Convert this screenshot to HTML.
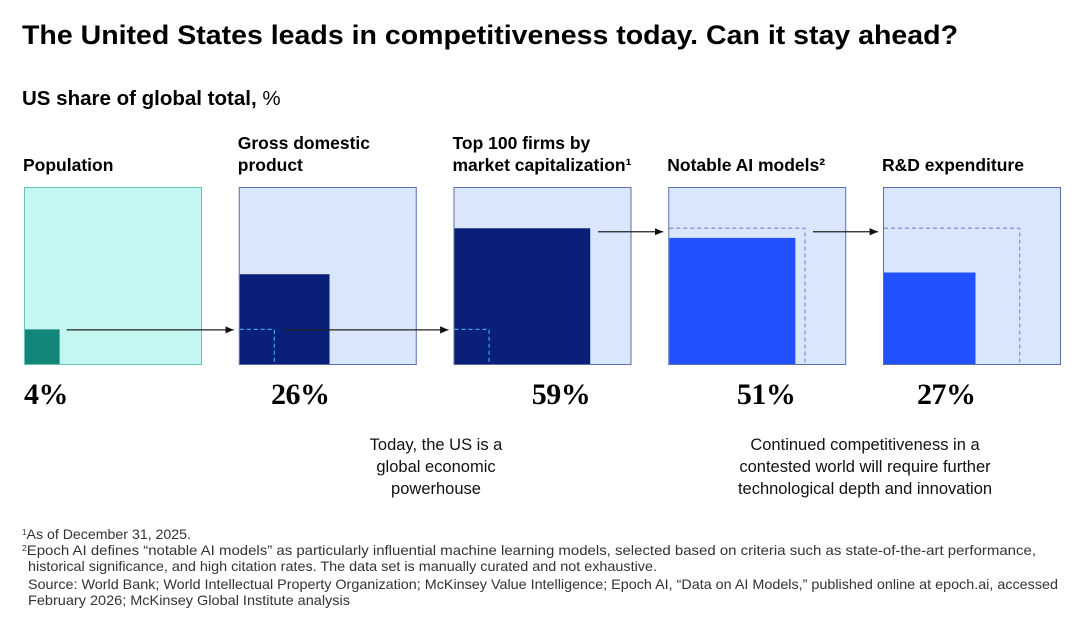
<!DOCTYPE html>
<html><head><meta charset="utf-8"><style>
body{margin:0;background:#fff;width:1080px;height:621px;overflow:hidden;font-family:"Liberation Sans",sans-serif;}
svg{display:block}
</style></head><body>
<svg id="chart" width="1080" height="621" font-family="Liberation Sans, sans-serif">
<text x="22" y="44" font-size="27" font-weight="bold" fill="#000" textLength="936" lengthAdjust="spacingAndGlyphs">The United States leads in competitiveness today. Can it stay ahead?</text>
<text x="22" y="105" font-size="20.5" font-weight="bold" fill="#000">US share of global total, <tspan font-weight="normal">%</tspan></text>
<g id="panels"></g>
<g font-size="16.5" fill="#111" text-anchor="middle">
<text x="436" y="450">Today, the US is a</text><text x="436" y="472">global economic</text><text x="436" y="494">powerhouse</text></g>
<g font-size="16.5" fill="#111" text-anchor="middle">
<text x="865" y="450">Continued competitiveness in a</text><text x="865" y="472">contested world will require further</text><text x="865" y="494">technological depth and innovation</text></g>
<g font-size="14" fill="#333" lengthAdjust="spacingAndGlyphs">
<text x="22" y="539" textLength="169" lengthAdjust="spacingAndGlyphs"><tspan font-size="8" dy="-4">1</tspan><tspan dy="4">As of December 31, 2025.</tspan></text>
<text x="22" y="555" textLength="1014" lengthAdjust="spacingAndGlyphs"><tspan font-size="8" dy="-4">2</tspan><tspan dy="4">Epoch AI defines “notable AI models” as particularly influential machine learning models, selected based on criteria such as state-of-the-art performance,</tspan></text>
<text x="28" y="571" textLength="629" lengthAdjust="spacingAndGlyphs">historical significance, and high citation rates. The data set is manually curated and not exhaustive.</text>
<text x="28" y="589" textLength="1030" lengthAdjust="spacingAndGlyphs">Source: World Bank; World Intellectual Property Organization; McKinsey Value Intelligence; Epoch AI, “Data on AI Models,” published online at epoch.ai, accessed</text>
<text x="28" y="605" textLength="322" lengthAdjust="spacingAndGlyphs">February 2026; McKinsey Global Institute analysis</text>
</g>
</svg>
<script>
const categories=["Population","Gross domestic product","Top 100 firms by market capitalization","Notable AI models","R&D expenditure"];
const shares=[4,26,59,51,27];
const referenceShares=[null,4,4,59,59];
const titleLines=[["Population"],["Gross domestic","product"],["Top 100 firms by","market capitalization¹"],["Notable AI models²"],["R&D expenditure"]];
const NS="http://www.w3.org/2000/svg";
const g=document.getElementById("panels");
const X0=24,STEP=214.75,S=178,TOP=187,BOT=365;
function side(v){return S*Math.sqrt(v/100);}
function px(i){return X0+i*STEP;}
function mk(t,a,p){const e=document.createElementNS(NS,t);for(const k in a)e.setAttribute(k,a[k]);(p||g).appendChild(e);return e;}
const bg=["#c4f6f2","#d9e6fb","#d9e6fb","#d9e6fb","#d9e6fb"];
const bd=["#6cc2b8","#5a6fa8","#5a6fa8","#5a6fa8","#5a6fa8"];
const fg=["#128679","#0a1f78","#0a1f78","#2251ff","#2251ff"];
const dashCol=["#000","#3aa6e8","#3aa6e8","#7c8fe8","#7c8fe8"];
mk("defs",{}).innerHTML='<marker id="ah" markerWidth="8" markerHeight="8" refX="7" refY="4" orient="auto"><path d="M0,1 L7,4 L0,7 z" fill="#111"/></marker>';
categories.forEach((c,i)=>{
  const x=px(i);
  const lines=titleLines[i];
  lines.forEach((l,j)=>{const t=mk("text",{x:x-1,y:171-(lines.length-1-j)*22,"font-size":17.5,"font-weight":"bold",fill:"#000"});
    
    
    t.textContent=l;});
  const r=mk("rect",{x:x+0.5,y:TOP+0.5,width:S-1,height:S-1,fill:bg[i],stroke:bd[i],"stroke-width":1});
  
  
  const s=side(shares[i]);
  const b=mk("rect",{x:x+1,y:BOT-s,width:s-1,height:s-1,fill:fg[i]});
  
  
  if(referenceShares[i]!=null){
    const d=side(referenceShares[i]);
    const p=mk("path",{d:`M${x+1},${BOT-d} H${x+d} V${BOT-1}`,fill:"none",stroke:dashCol[i],"stroke-width":1.2,"stroke-dasharray":"4,3"});
    
    
  }
  const lbl=mk("text",{x:Math.max(x+s,x+44),y:404,"text-anchor":"end","font-family":"Liberation Serif, serif","font-size":30,"font-weight":"bold",fill:"#000","letter-spacing":"-0.5"});
  
  
  lbl.textContent=shares[i]+"%";
  if(i<categories.length-1){
    const nx=px(i+1);
    let y=BOT-side(referenceShares[i+1])+0.5;
    if(i>=2)y+=3;
    let x1;
    if(i===0)x1=x+s+7;
    else if(i===1)x1=x+side(referenceShares[1])+10;
    else if(i===2)x1=598;
    else x1=813;
    const a=mk("line",{x1:x1,y1:y,x2:nx-5,y2:y,stroke:"#222","stroke-width":1.2,"marker-end":"url(#ah)"});
    
    
  }
});
</script>
</body></html>
